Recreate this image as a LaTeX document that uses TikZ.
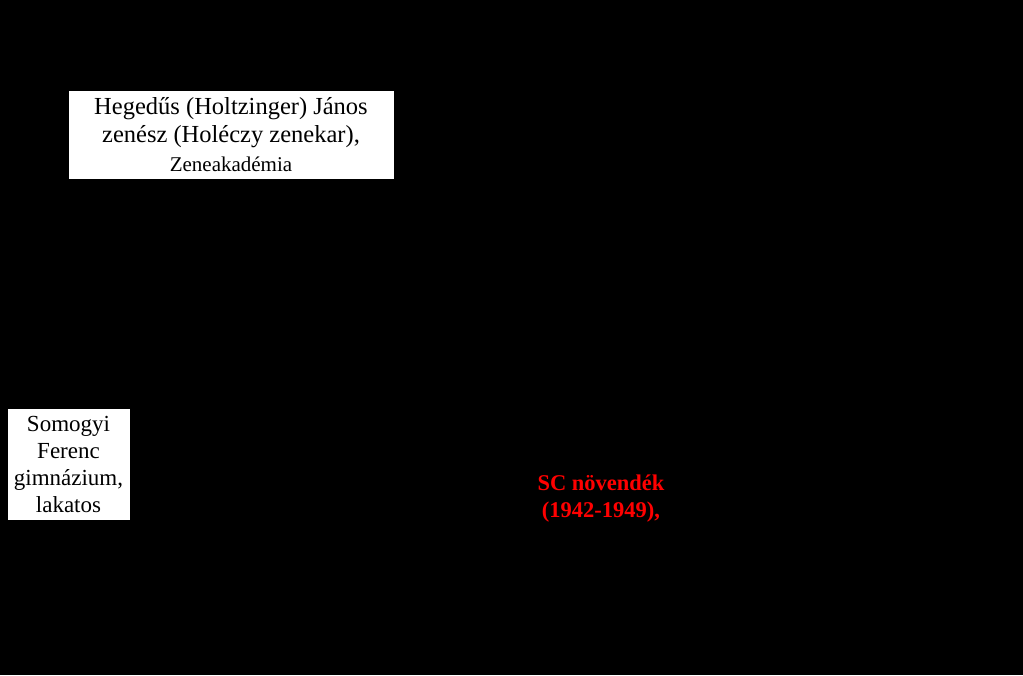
\documentclass[tikz,border=0pt]{standalone}
\usepackage{fontspec}
\setmainfont{Liberation Serif}
\begin{document}
\begin{tikzpicture}[x=1pt,y=-1pt,
  wbox/.style={fill=white,draw=black,line width=0.6pt,inner sep=0pt,align=center,text=black},
  redlabel/.style={text=red,align=center,font=\bfseries\fontsize{22.5}{27}\selectfont}]
\fill[black] (0,0) rectangle (1023,675);
\useasboundingbox (0,0) rectangle (1023,675);
\node[wbox,minimum width=326pt,minimum height=89pt,font=\fontsize{24.5}{28.5}\selectfont] (hegedus) at (231,134.5)
  {Hegedűs (Holtzinger) János\\zenész (Holéczy zenekar),\\{\fontsize{21}{28.5}\selectfont Zeneakadémia}};
\node[wbox,minimum width=123pt,minimum height=112pt,font=\fontsize{23}{27}\selectfont] (somogyi) at (68.5,464)
  {Somogyi\\Ferenc\\gimnázium,\\lakatos};
\node[redlabel] (sc) at (601,499) {SC növendék\\(1942-1949),};
\end{tikzpicture}
\end{document}
